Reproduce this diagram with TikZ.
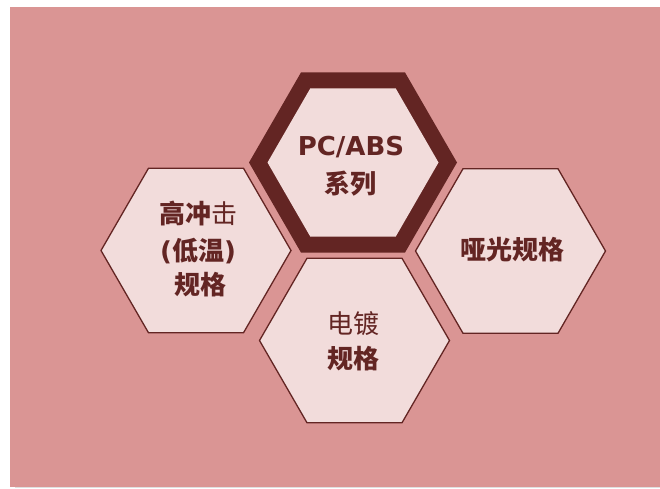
\documentclass[tikz,border=0pt]{standalone}
\usepackage{fontspec}
\setmainfont{DejaVu Sans}
\newfontfamily\cjk{Noto Sans CJK SC}
\definecolor{bgpink}{HTML}{DA9594}
\definecolor{hexfill}{HTML}{F2DCDB}
\definecolor{darkred}{HTML}{632523}
\tikzset{
  smallhex/.style={fill=hexfill, draw=darkred, line width=1.3pt, line join=miter},
  cjktxt/.style={text=darkred, font=\fontsize{26}{30}\selectfont\cjk\bfseries, inner sep=0pt, anchor=base},
  cjkthin/.style={text=darkred, font=\fontsize{26}{30}\selectfont\cjk, inner sep=0pt, anchor=base},
  lattxt/.style={text=darkred, font=\fontsize{26}{30}\selectfont\bfseries, inner sep=0pt, anchor=base}
}
\begin{document}
\begin{tikzpicture}[x=1pt,y=-1pt]
\useasboundingbox (0,0) rectangle (660,488);
\fill[gray!25] (15,486) rectangle (660,488);
\fill[bgpink] (10,7) rectangle (660,486.5);
% central hexagon
\fill[darkred,shift={(353,162.5)}] (0:104) -- (60:104) -- (120:104) -- (180:104) -- (240:104) -- (300:104) -- cycle;
\fill[hexfill,shift={(353,162.5)}] (0:85.5) -- (60:85.5) -- (120:85.5) -- (180:85.5) -- (240:85.5) -- (300:85.5) -- cycle;
% left hexagon
\draw[smallhex,shift={(196,250.5)}] (0:95) -- (60:95) -- (120:95) -- (180:95) -- (240:95) -- (300:95) -- cycle;
% bottom hexagon
\draw[smallhex,shift={(354.5,340.5)}] (0:95) -- (60:95) -- (120:95) -- (180:95) -- (240:95) -- (300:95) -- cycle;
% right hexagon
\draw[smallhex,shift={(510.5,251)}] (0:95) -- (60:95) -- (120:95) -- (180:95) -- (240:95) -- (300:95) -- cycle;
% texts
\node[lattxt] (pc) at (351,155.5) {PC/ABS};
\node[cjktxt] (xl) at (350,193) {系列};
\node[cjktxt] (gc) at (198.5,223) {高冲{\mdseries 击}};
\node[cjktxt] (dw) at (198,260.5) {{\fontspec{DejaVu Sans}\bfseries (}低温{\fontspec{DejaVu Sans}\bfseries )}};
\node[cjktxt] (gg1) at (200,294) {规格};
\node[cjkthin] (dd) at (353.5,333) {电镀};
\node[cjktxt] (gg2) at (353.5,368) {规格};
\node[cjktxt] (yg) at (512,259) {哑光规格};
\end{tikzpicture}
\end{document}
